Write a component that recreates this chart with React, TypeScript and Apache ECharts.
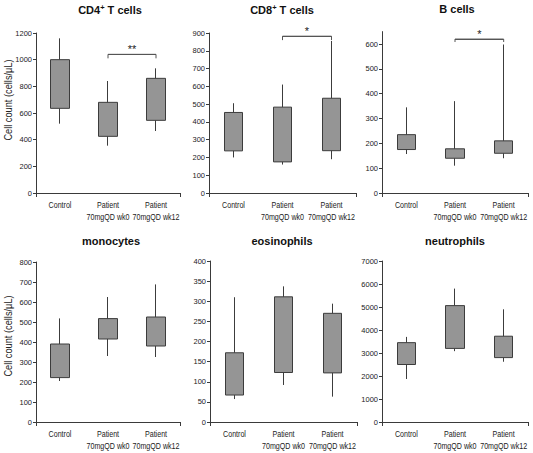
import React, { useEffect, useRef } from 'react';
import * as echarts from 'echarts';

// ---------- data ----------
const categories = ['Control', 'Patient\n70mgQD wk0', 'Patient\n70mgQD wk12'];

// each box: [Q1, Q3, whisker min, whisker max]
const cd4Boxes = [
  [635, 1000, 520, 1160],
  [425, 680, 355, 840],
  [545, 860, 465, 935],
];
const cd8Boxes = [
  [237, 453, 200, 505],
  [175, 483, 160, 610],
  [238, 533, 190, 855],
];
const bBoxes = [
  [175, 235, 157, 345],
  [140, 178, 110, 370],
  [160, 210, 140, 598],
];
const monoBoxes = [
  [222, 390, 205, 518],
  [415, 517, 330, 625],
  [380, 525, 325, 688],
];
const eosBoxes = [
  [67, 172, 57, 310],
  [123, 311, 92, 337],
  [122, 270, 63, 294],
];
const neutBoxes = [
  [2500, 3450, 1870, 3700],
  [3200, 5060, 3080, 5800],
  [2800, 3730, 2620, 4900],
];

const titles = ['CD4', 'CD8', 'B cells', 'monocytes', 'eosinophils', 'neutrophils'];
const yMax = [1200, 900, 650, 800, 400, 7000];
const yInterval = [200, 100, 100, 100, 50, 1000];
const bTicks = [0, 100, 200, 300, 400, 500, 600];

// significance brackets: [panel, level, tick depth, label]
const brackets: [number, number, number, string][] = [
  [0, 1040, 30, '**'],
  [1, 882, 22, '*'],
  [2, 620, 12, '*'],
];

const yTitle = 'Cell count (cells/\u03bcL)';

// ---------- layout ----------
const grids = [
  { left: 36, top: 33, width: 144, height: 160 },
  { left: 209, top: 33, width: 147, height: 160 },
  { left: 382, top: 31.6, width: 146, height: 161.4 },
  { left: 36, top: 262, width: 144, height: 160 },
  { left: 210, top: 261, width: 147, height: 161 },
  { left: 382, top: 261, width: 146, height: 161 },
];
const titlePos = [
  [110, 3], [282, 3], [457, 3],
  [111, 235], [282, 235], [455, 235],
];

const FONT = '"Liberation Sans", Arial, sans-serif';
const AXIS = '#3a3a3a';

export default function App() {
  const ref = useRef<HTMLDivElement>(null);
  useEffect(() => {
    if (!ref.current) return;
    const chart = echarts.init(ref.current, undefined, { renderer: 'svg' });
    const allBoxes = [cd4Boxes, cd8Boxes, bBoxes, monoBoxes, eosBoxes, neutBoxes];

    const title = titles.map((t, i) => ({
      text: i < 2 ? `{a|${t}}{s|+}{a| T cells}` : `{a|${t}}`,
      left: titlePos[i][0],
      top: titlePos[i][1],
      textAlign: 'center',
      padding: 0,
      textStyle: {
        rich: {
          a: { fontSize: 11, fontWeight: 'bold', fontFamily: FONT, color: '#111' },
          s: { fontSize: 7.5, fontWeight: 'bold', fontFamily: FONT, color: '#111', verticalAlign: 'top', padding: [0, 0, 6, 0] },
        },
      },
    }));

    const xAxis = grids.map((_, i) => ({
      type: 'category',
      gridIndex: i,
      data: categories,
      boundaryGap: true,
      axisLine: { lineStyle: { color: AXIS, width: 1 } },
      axisTick: { show: true, length: 4, lineStyle: { color: AXIS } },
      axisLabel: { show: false },
      splitLine: { show: false },
    }));

    const yAxis = grids.map((_, i) => {
      const ax: any = {
        type: 'value',
        gridIndex: i,
        min: 0,
        max: yMax[i],
        interval: yInterval[i],
        axisLine: { show: true, lineStyle: { color: AXIS, width: 1 } },
        axisTick: { show: true, length: 3, lineStyle: { color: AXIS } },
        axisLabel: { fontSize: 7.5, fontFamily: FONT, color: '#222', margin: 4, formatter: (v: number) => String(v) },
        splitLine: { show: false },
      };
      if (i === 2) {
        ax.axisTick.customValues = bTicks;
        ax.axisLabel.customValues = bTicks;
      }
      return ax;
    });

    const series: any[] = allBoxes.map((boxes, i) => ({
      type: 'candlestick',
      xAxisIndex: i,
      yAxisIndex: i,
      barWidth: 19,
      data: boxes,
      itemStyle: {
        color: '#959595',
        color0: '#959595',
        borderColor: '#3c3c3c',
        borderColor0: '#3c3c3c',
        borderWidth: 1,
      },
    }));

    brackets.forEach(([p, lvl, d, lab]) => {
      series.push({
        type: 'line',
        xAxisIndex: p,
        yAxisIndex: p,
        clip: false,
        symbol: 'none',
        silent: true,
        lineStyle: { color: '#555', width: 1 },
        data: [[1, lvl - d], [1, lvl], [2, lvl], [2, lvl - d]],
        markLine: {
          silent: true,
          symbol: 'none',
          lineStyle: { color: '#555', width: 1, type: 'solid' },
          label: { show: true, position: 'middle', formatter: lab, fontSize: 11, color: '#222', distance: 0, fontFamily: FONT },
          data: [[{ coord: [1, lvl] }, { coord: [2, lvl] }]],
        },
      });
    });

    chart.setOption({
      animation: false,
      backgroundColor: '#fff',
      title,
      grid: grids.map((g) => ({ ...g, containLabel: false })),
      xAxis,
      yAxis,
      series,
    });

    // category labels, placed through the axes' own scales (condensed like the reference)
    const graphic: any[] = [
      { type: 'text', x: 8, y: 100, rotation: Math.PI / 2, scaleX: 0.88, style: { text: yTitle, fontSize: 10.5, fontFamily: FONT, fill: '#222', align: 'center', verticalAlign: 'middle' } },
      { type: 'text', x: 8, y: 336, rotation: Math.PI / 2, scaleX: 0.88, style: { text: yTitle, fontSize: 10.5, fontFamily: FONT, fill: '#222', align: 'center', verticalAlign: 'middle' } },
    ];
    grids.forEach((_, i) => {
      const y0 = chart.convertToPixel({ yAxisIndex: i } as any, 0) as number;
      categories.forEach((c, k) => {
        const x = chart.convertToPixel({ xAxisIndex: i } as any, k) as number;
        graphic.push({
          type: 'text',
          x,
          y: y0 + 6,
          scaleX: 0.75,
          style: { text: c, fontSize: 9.5, lineHeight: 12, fontFamily: FONT, fill: '#222', align: 'center', verticalAlign: 'top' },
        });
      });
    });
    chart.setOption({ graphic });

    return () => chart.dispose();
  }, []);
  return <div ref={ref} style={{ position: 'absolute', left: 0, top: 0, width: 533, height: 453 }} />;
}
